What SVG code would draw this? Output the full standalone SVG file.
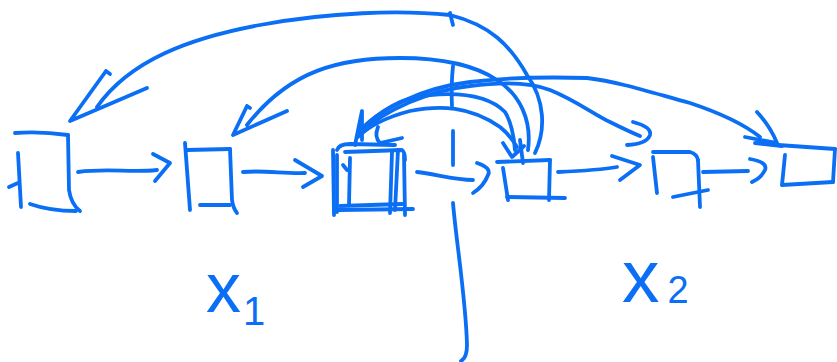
<svg xmlns="http://www.w3.org/2000/svg" width="837" height="362" viewBox="0 0 837 362">
<style>
.s{fill:none;stroke:#0b6ff5;stroke-width:3.8;stroke-linecap:round;stroke-linejoin:round}
.t{fill:#0b6ff5;font-family:"Liberation Sans",Arial,sans-serif}
</style>
<rect width="837" height="362" fill="#ffffff"/>
<g id="node-a" class="s">
<path d="M15,133 Q40,131 68,135"/>
<path d="M68,135 L69,190 Q71,204 80,211"/>
<path d="M30,204 Q50,211 76,211"/>
<path d="M18,153 L21,207"/>
<path d="M9,187 L18,183"/>
</g>
<g id="node-b" class="s">
<path d="M185,143 L190,210"/>
<path d="M187,150 L230,149"/>
<path d="M230,149 L232,200 Q233,208 237,213"/>
<path d="M200,205 L230,205"/>
</g>
<g id="node-c" class="s">
<path d="M333,150 L334,215"/>
<path d="M337,155 L337,212"/>
<path d="M350,158 L349,205"/>
<path d="M337,150 Q339,144 350,144 L395,145"/>
<path d="M345,152 L402,150 Q405,152 405,160"/>
<path d="M392,152 L390,213"/>
<path d="M398,150 L395,210"/>
<path d="M404,155 L405,215"/>
<path d="M340,206 L402,204"/>
<path d="M338,210 L413,209"/>
<path d="M343,165 L347,170"/>
</g>
<g id="node-d" class="s">
<path d="M497,162 L550,160"/>
<path d="M550,160 L549,200"/>
<path d="M507,197 L565,198"/>
<path d="M503,168 L508,200"/>
</g>
<g id="node-e" class="s">
<path d="M653,152 L690,152 Q697,154 698,160"/>
<path d="M698,160 L700,207"/>
<path d="M653,157 L657,193"/>
<path d="M673,197 L708,190"/>
</g>
<g id="node-f" class="s">
<path d="M778,145 L835,149"/>
<path d="M835,149 L833,182"/>
<path d="M782,185 L833,182"/>
<path d="M785,155 L782,185"/>
</g>
<g id="connectors" class="s">
<path d="M78,172 C110,168 130,173 157,170"/>
<path d="M153,154 L170,163 L155,181"/>
<path d="M243,172 C265,170 285,174 305,173"/>
<path d="M295,160 L322,176 L303,187"/>
<path d="M417,172 C435,174 455,180 473,180"/>
<path d="M477,163 Q492,168 488,175 Q484,186 473,193"/>
<path d="M558,172 C580,171 600,170 617,167"/>
<path d="M612,156 L640,165 L620,180"/>
<path d="M703,172 L748,171"/>
<path d="M750,159 Q768,162 765,170 Q761,178 752,182"/>
<path d="M535,153 C546,130 545,100 527,75 C510,45 490,25 450,15 C400,10 330,12 260,25 C190,38 130,60 97,107"/>
<path d="M106,71 L110,74 M106,71 L70,121 L147,88"/>
<path d="M528,150 C532,120 520,95 497,80 C470,62 430,58 400,58 C340,58 290,70 247,125"/>
<path d="M247,106 L250,108 M247,106 L233,135 L287,111"/>
<path d="M358,137 C370,125 387,117 410,111 C440,105 470,106 500,127 Q510,135 517,147"/>
<path d="M358,133 C375,115 400,97 430,95 C465,92 490,97 505,112 Q513,125 515,150"/>
<path d="M360,130 C380,110 420,88 470,82 C510,77 553,77 587,78 C620,82 653,93 690,103 C720,113 745,125 760,137"/>
<path d="M360,133 C385,110 430,90 470,86 C500,82 530,82 550,90 C575,100 595,115 610,122 C620,127 630,132 640,136"/>
<path d="M633,122 Q652,127 650,135 Q647,144 627,145"/>
<path d="M757,112 Q770,126 777,143 M745,137 L777,143 M755,143 L782,146"/>
<path d="M503,143 L512,157 L524,146"/>
<path d="M520,140 L523,163"/>
<path d="M355,145 L362,111 L362,140"/>
<path d="M378,127 Q374,137 380,143 L402,138"/>
<path d="M450,13 L453,25"/>
<path d="M453,66 Q451,85 452,106"/>
<path d="M453,131 L453,165"/>
<path d="M453,203 C456,240 466,300 467,345 Q467,358 461,361"/>
</g>
<text class="t" x="206" y="312" font-size="70">x<tspan font-size="40" dx="2" dy="13">1</tspan></text>
<text class="t" x="622" y="302" font-size="75">x<tspan font-size="38" dx="8" dy="1">2</tspan></text>
</svg>
